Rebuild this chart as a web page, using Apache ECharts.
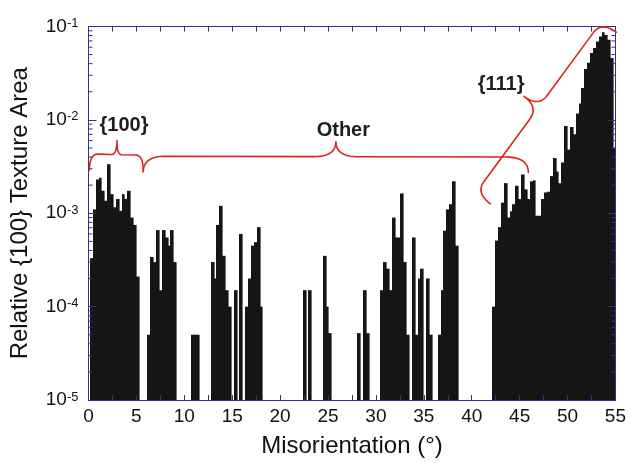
<!DOCTYPE html>
<html>
<head>
<meta charset="utf-8">
<script src="https://cdn.jsdelivr.net/npm/echarts@6/dist/echarts.min.js"></script>
<style>
html,body{margin:0;padding:0;background:#fff;}
#c{width:629px;height:463px;}
</style>
</head>
<body>
<div id="c"></div>
<script>
// ---------------- data ----------------
// Histogram of relative {100} texture area; bin i is centred at i * binWidth degrees.
const binWidth = 0.3;
// bins 0-20  ({100} region)
const area100 = [
  0, 3.3e-4, 1.1e-3, 2.3e-3, 2.4e-3, 1.74e-3, 1.36e-3, 3.35e-3, 1.6e-3, 1.16e-3,
  1.42e-3, 1.06e-3, 1.6e-3, 1.42e-3, 1.74e-3, 9.0e-4, 7.5e-4, 2.1e-4, 0, 0,
  0
];
// bins 21-140 ("Other" region)
const areaOther = [
  5.0e-5, 3.4e-4, 3.0e-4, 6.6e-4, 1.5e-4, 6.6e-4, 5.5e-4, 4.5e-4, 6.6e-4, 3.0e-4,
  0, 0, 0, 0, 0, 5.0e-5, 5.0e-5, 5.0e-5, 0, 0,
  0, 0, 3.0e-4, 2.0e-4, 7.5e-4, 1.2e-3, 3.5e-4, 1.5e-4, 1.0e-4, 0,
  1.5e-4, 0, 6.0e-4, 0, 1.0e-4, 2.0e-4, 4.5e-4, 4.9e-4, 7.1e-4, 1.0e-4,
  0, 0, 0, 0, 0, 0, 0, 0, 0, 0,
  0, 0, 0, 0, 1.5e-4, 0, 1.5e-4, 0, 0, 0,
  0, 3.5e-4, 1.0e-4, 5.2e-5, 0, 0, 0, 0, 0, 0,
  0, 0, 0, 5.2e-5, 0, 1.5e-4, 5.2e-5, 0, 0, 0,
  0, 1.5e-4, 3.0e-4, 2.55e-4, 1.5e-4, 9.0e-4, 5.5e-4, 5.5e-4, 1.63e-3, 3.0e-4,
  5.0e-5, 0, 5.5e-4, 5.0e-5, 2.0e-4, 2.55e-4, 0, 2.0e-4, 5.0e-5, 0,
  0, 5.0e-5, 1.5e-4, 6.5e-4, 1.1e-3, 1.25e-3, 2.2e-3, 4.5e-4, 0, 0,
  0, 0, 0, 0, 0, 0, 0, 0, 0, 0
];
// bins 141-183 ({111} region)
const area111 = [
  1.0e-4, 5.1e-4, 7.1e-4, 1.3e-3, 2.1e-3, 9.0e-4, 1.05e-3, 1.25e-3, 1.97e-3, 1.42e-3,
  2.6e-3, 1.8e-3, 1.42e-3, 2.2e-3, 2.25e-3, 9.4e-4, 9.4e-4, 1.42e-3, 1.67e-3, 1.7e-3,
  2.5e-3, 3.9e-3, 2.8e-3, 2.1e-3, 3.5e-3, 8.6e-3, 4.8e-3, 8.4e-3, 7.0e-3, 1.17e-2,
  1.5e-2, 2.2e-2, 3.5e-2, 4.1e-2, 5.2e-2, 5.9e-2, 6.9e-2, 7.8e-2, 8.7e-2, 8.1e-2,
  7.2e-2, 4.6e-2, 5.0e-3
];
// axis ranges / ticks
const xRange = [0, 55];
const xTickStep = 2.5;
const xLabelStep = 5;
const yRange = [1e-5, 1e-1];
// annotations (data coordinates)
const annotationText = ['{100}', 'Other', '{111}'];
const annotationTextAt = [[3.7, 8.7e-3], [26.6, 7.7e-3], [43.07, 2.38e-2]];
const braceFrom = [[0.08, 2.84e-3], [5.71, 2.75e-3], [42.0, 1.25e-3]];
const braceTo = [[5.71, 2.75e-3], [45.92, 2.69e-3], [55.16, 8.6e-2]];

// ---------------- styles ----------------
const AXIS = '#2e3192';
const BAR = '#151515';
const RED = '#d9261c';
const FONT = '"Liberation Sans", Arial, Helvetica, sans-serif';
// brace geometry in px: [back depth, tip depth, end radius, tip radius]
const braceShape = [[17, 31, 8, 5], [16, 31, 22, 22], [19, 37, 14, 15]];

const values = area100.concat(areaOther, area111);
const barData = [];
values.forEach((v, i) => { if (v > 0) barData.push([i * binWidth, v]); });

const minorTicks = [];
for (let e = Math.round(Math.log10(yRange[0])); e < Math.round(Math.log10(yRange[1])); e++) {
  for (let m = 2; m <= 9; m++) minorTicks.push([xRange[0], m * Math.pow(10, e)]);
}

const chart = echarts.init(document.getElementById('c'), null, {renderer: 'canvas'});

function renderBar(params, api) {
  const c = api.value(0), v = api.value(1);
  const p0 = api.coord([c - binWidth / 2, v]);
  const p1 = api.coord([c + binWidth / 2, yRange[0]]);
  const cs = params.coordSys;
  const x0 = Math.max(Math.round(p0[0]), Math.round(cs.x));
  // overlap next bin by a fraction of a pixel so adjacent bins form a solid block
  const x1 = Math.min(Math.round(p1[0]) + 0.6, cs.x + cs.width);
  if (x1 <= x0) return null;
  return {type: 'rect', shape: {x: x0, y: p0[1], width: x1 - x0, height: p1[1] - p0[1]},
    style: {fill: BAR, stroke: null, lineWidth: 0}};
}

function renderMinor(params, api) {
  const v = api.value(1);
  const l = api.coord([xRange[0], v]);
  const r = api.coord([xRange[1], v]);
  return {type: 'group', children: [
    {type: 'line', shape: {x1: l[0], y1: l[1], x2: l[0] + 4, y2: l[1]}, style: {stroke: AXIS, lineWidth: 1}},
    {type: 'line', shape: {x1: r[0] - 4, y1: r[1], x2: r[0], y2: r[1]}, style: {stroke: AXIS, lineWidth: 1}}
  ]};
}

const yLabel = {
  show: true, margin: 10,
  formatter: v => '{b|10}{s|' + Math.round(Math.log10(v)) + '}',
  rich: {
    b: {fontSize: 19, fontFamily: FONT, color: '#111', lineHeight: 19},
    s: {fontSize: 13, fontFamily: FONT, color: '#111', lineHeight: 13, verticalAlign: 'top'}
  }
};

chart.setOption({
  animation: false,
  backgroundColor: '#fff',
  grid: {left: 88.5, right: 12.3, top: 26.5, bottom: 61, containLabel: false},
  xAxis: [{
    type: 'value', min: xRange[0], max: xRange[1], interval: xTickStep, z: 10,
    name: 'Misorientation (°)', nameLocation: 'middle', nameGap: 34,
    nameTextStyle: {fontSize: 24, fontFamily: FONT, color: '#111'},
    axisLine: {show: true, onZero: false, lineStyle: {color: AXIS, width: 1}},
    axisTick: {show: true, inside: true, length: 5, lineStyle: {color: AXIS}},
    axisLabel: {show: true, margin: 7, fontSize: 19, fontFamily: FONT, color: '#111',
      formatter: v => (Math.abs(v % xLabelStep) < 1e-9 ? String(v) : '')},
    splitLine: {show: false}
  }, {
    type: 'value', position: 'top', min: xRange[0], max: xRange[1], interval: xTickStep, z: 10,
    axisLine: {show: true, onZero: false, lineStyle: {color: AXIS, width: 1}},
    axisTick: {show: true, inside: true, length: 5, lineStyle: {color: AXIS}},
    axisLabel: {show: false}, splitLine: {show: false}
  }],
  yAxis: [{
    type: 'log', logBase: 10, min: yRange[0], max: yRange[1], splitNumber: 4, z: 10,
    name: 'Relative {100} Texture Area', nameLocation: 'middle', nameGap: 56,
    nameTextStyle: {fontSize: 24, fontFamily: FONT, color: '#111'},
    axisLine: {show: true, onZero: false, lineStyle: {color: AXIS, width: 1}},
    axisTick: {show: true, inside: true, length: 8, lineStyle: {color: AXIS}},
    axisLabel: yLabel,
    splitLine: {show: false}
  }, {
    type: 'log', logBase: 10, position: 'right', min: yRange[0], max: yRange[1], splitNumber: 4, z: 10,
    axisLine: {show: true, onZero: false, lineStyle: {color: AXIS, width: 1}},
    axisTick: {show: true, inside: true, length: 8, lineStyle: {color: AXIS}},
    axisLabel: {show: false}, splitLine: {show: false}
  }],
  series: [{
    type: 'custom', name: 'area', xAxisIndex: 0, yAxisIndex: 0, z: 2,
    renderItem: renderBar, data: barData, encode: {x: 0, y: 1}, silent: true
  }, {
    type: 'custom', name: 'minorTicks', xAxisIndex: 0, yAxisIndex: 0, z: 11, clip: false,
    renderItem: renderMinor, data: minorTicks, encode: {x: 0, y: 1}, silent: true
  }]
});

// curly brace as sampled polyline between pixel points P and Q
function bracePoints(P, Q, h1, h2, rEnd, rTip) {
  const dx = Q[0] - P[0], dy = Q[1] - P[1], L = Math.hypot(dx, dy);
  const ux = dx / L, uy = dy / L, nx = uy, ny = -ux;
  const pt = (s, t) => [P[0] + s * ux + t * nx, P[1] + s * uy + t * ny];
  const m = L / 2;
  const segs = [
    ['Q', [0, 0], [0, h1], [rEnd, h1]],
    ['L', [rEnd, h1], [m - rTip, h1]],
    ['Q', [m - rTip, h1], [m, h1], [m, h2]],
    ['Q', [m, h2], [m, h1], [m + rTip, h1]],
    ['L', [m + rTip, h1], [L - rEnd, h1]],
    ['Q', [L - rEnd, h1], [L, h1], [L, 0]]
  ];
  const out = [];
  segs.forEach(sg => {
    if (sg[0] === 'L') { out.push(pt(sg[1][0], sg[1][1])); out.push(pt(sg[2][0], sg[2][1])); return; }
    const a = sg[1], b = sg[2], c = sg[3];
    for (let k = 0; k <= 16; k++) {
      const t = k / 16, u = 1 - t;
      out.push(pt(u * u * a[0] + 2 * u * t * b[0] + t * t * c[0], u * u * a[1] + 2 * u * t * b[1] + t * t * c[1]));
    }
  });
  return out;
}

const toPx = p => chart.convertToPixel({xAxisIndex: 0, yAxisIndex: 0}, p);
const graphics = [];
for (let i = 0; i < braceFrom.length; i++) {
  const s = braceShape[i];
  graphics.push({
    type: 'polyline', z: 20, silent: true,
    shape: {points: bracePoints(toPx(braceFrom[i]), toPx(braceTo[i]), s[0], s[1], s[2], s[3])},
    style: {fill: null, stroke: RED, lineWidth: 1.6, lineJoin: 'round'}
  });
}
for (let i = 0; i < annotationText.length; i++) {
  const p = toPx(annotationTextAt[i]);
  graphics.push({
    type: 'text', x: p[0], y: p[1], z: 21, silent: true,
    style: {text: annotationText[i], fontSize: 20, fontWeight: 'bold', fontFamily: FONT,
      fill: '#1e1e1e', align: 'center', verticalAlign: 'middle'}
  });
}
chart.setOption({graphic: graphics});
</script>
</body>
</html>
